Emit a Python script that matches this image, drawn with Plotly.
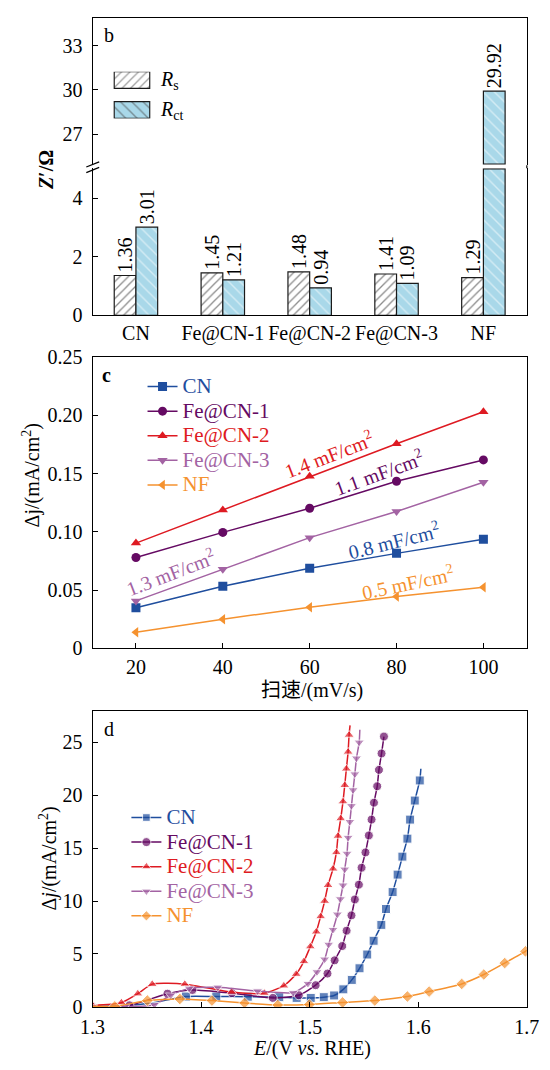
import plotly.graph_objects as go

W, H = 550, 1070
FONT = "Liberation Serif, Noto Sans CJK SC, serif"
SERIF = "Liberation Serif"

# ---------------- panel b: equivalent-circuit resistances ----------------
samples = ["CN", "Fe@CN-1", "Fe@CN-2", "Fe@CN-3", "NF"]
r_s = [1.36, 1.45, 1.48, 1.41, 1.29]
r_ct = [3.01, 1.21, 0.94, 1.09, 29.92]
low_ticks = [0, 2, 4]
high_ticks = [27, 30, 33]

# ---------------- panel c: double-layer current vs scan rate ----------------
scan_rate = [20, 40, 60, 80, 100]
dj_cn = [0.0348, 0.0533, 0.0687, 0.0815, 0.0936]
dj_fe1 = [0.0779, 0.0995, 0.1202, 0.1434, 0.1617]
dj_fe2 = [0.0903, 0.1188, 0.1476, 0.1756, 0.2031]
dj_fe3 = [0.0407, 0.0678, 0.0950, 0.1174, 0.1426]
dj_nf = [0.0138, 0.0250, 0.0353, 0.0445, 0.0524]
c_ticks = [0, 0.05, 0.10, 0.15, 0.20, 0.25]
c_ticktext = ["0", "0.05", "0.10", "0.15", "0.20", "0.25"]
cdl_text = ["0.8 mF/cm<sup>2</sup>", "1.1 mF/cm<sup>2</sup>", "1.4 mF/cm<sup>2</sup>",
            "1.3 mF/cm<sup>2</sup>", "0.5 mF/cm<sup>2</sup>"]

# ---------------- panel d: LSV polarisation curves ----------------
e_cn = [1.300, 1.330, 1.356, 1.386, 1.414, 1.443, 1.472, 1.488, 1.501, 1.513, 1.5225,
        1.531, 1.5388, 1.5459, 1.553, 1.5589, 1.566, 1.5703, 1.5764, 1.581, 1.5854,
        1.590, 1.5925, 1.5968, 1.6014, 1.6024]
j_cn = [0.05, 0.12, 0.40, 0.98, 0.98, 0.96, 0.92, 0.85, 0.85, 0.92, 1.08,
        1.66, 2.55, 3.65, 4.95, 6.25, 7.75, 9.25, 10.85, 12.5, 14.2,
        15.9, 17.7, 19.5, 21.4, 22.5]
e_fe1 = [1.300, 1.334, 1.369, 1.392, 1.4284, 1.466, 1.490, 1.5055, 1.5164, 1.523, 1.530,
         1.534, 1.5385, 1.5416, 1.5453, 1.5478, 1.5514, 1.5545, 1.557, 1.5592, 1.5622,
         1.5638, 1.5662, 1.5684]
j_fe1 = [0.0, 0.15, 1.25, 1.6, 1.3, 0.85, 1.1, 2.05, 3.15, 4.4, 5.75,
         7.2, 8.65, 10.15, 11.55, 13.15, 14.6, 16.2, 17.7, 19.3, 20.85,
         22.4, 23.95, 25.55]
e_fe2 = [1.300, 1.3266, 1.3417, 1.355, 1.385, 1.4281, 1.4583, 1.4762, 1.4876, 1.4947,
         1.5006, 1.5061, 1.5101, 1.5138, 1.5169, 1.5215, 1.5246, 1.5261, 1.5286, 1.5307,
         1.5323, 1.5338, 1.5354, 1.5363, 1.5372]
j_fe2 = [0.15, 0.40, 1.25, 2.15, 2.15, 1.40, 1.30, 2.0, 3.1, 4.3,
         5.7, 7.1, 8.55, 10.0, 11.5, 13.05, 14.6, 16.15, 17.8, 19.4,
         20.95, 22.5, 24.1, 25.7, 26.6]
e_fe3 = [1.300, 1.3296, 1.357, 1.372, 1.389, 1.4154, 1.452, 1.4848, 1.4984, 1.5067,
         1.5138, 1.5175, 1.5215, 1.5255, 1.5283, 1.5307, 1.5323, 1.5344, 1.5354, 1.537,
         1.5385, 1.540, 1.5416, 1.5431, 1.5456, 1.5462]
j_fe3 = [0.0, 0.0, 0.2, 1.1, 1.75, 1.85, 1.5, 1.35, 2.2, 3.3,
         4.5, 5.9, 7.3, 8.75, 10.2, 11.5, 13.0, 14.5, 16.0, 17.5,
         19.0, 20.5, 22.0, 23.5, 25.0, 26.2]
e_nf = [1.300, 1.3205, 1.3505, 1.3804, 1.410, 1.440, 1.4706, 1.4997, 1.5303, 1.560,
        1.590, 1.610, 1.640, 1.6604, 1.6796, 1.6987, 1.700]
j_nf = [0.05, 0.05, 0.6, 0.75, 0.6, 0.37, 0.18, 0.22, 0.42, 0.6,
        0.98, 1.45, 2.17, 3.06, 4.14, 5.25, 5.35]
d_xticks = [1.3, 1.4, 1.5, 1.6, 1.7]
d_yticks = [0, 5, 10, 15, 20, 25]

BLUE, PURPLE, RED, PINK, ORANGE = "#1F4E9E", "#650A63", "#DE1A22", "#A363A3", "#F5922F"
BLACK = "#1a1a1a"
RCT_BLUE = "#A9D8E9"

# plot-area geometry (pixels)
PX0, PX1 = 83.3, 538.3


def xp(px):
    return px / W


def yp(py):
    return 1 - py / H


def ydom(top, bottom):
    return [yp(bottom), yp(top)]


def legend_name(name, col):
    # legend entries carry the series colour; the text size is set on the span so
    # the row pitch (driven by the legend font) can stay compact
    return (f'<span style="color:{col};font-size:21px;font-family:{SERIF}">'
            f'{name}</span>')


fig = go.Figure()

# ---- panel b bars, drawn on a broken y axis (lower 0-5, upper 25-35) ----
LOW_CUT, HIGH_CUT = 5.0, 25.0
BAR_W = 0.25  # each bar takes a quarter of the category slot (group = half)
rs_marker = dict(color="white", line=dict(color=BLACK, width=1.2),
                 pattern=dict(shape="/", fgcolor=BLACK, bgcolor="white", size=6, solidity=0.22))
rct_marker = dict(color=RCT_BLUE, line=dict(color=BLACK, width=1.2),
                  pattern=dict(shape="\\", fgcolor="white", bgcolor=RCT_BLUE, size=8, solidity=0.18))
bar_font = dict(family=SERIF, size=20, color="black")
for vals, mk, offset in [(r_s, rs_marker, -BAR_W), (r_ct, rct_marker, 0.0)]:
    # lower segment: every bar, cut at the top of the lower axis
    fig.add_bar(x=samples, y=[min(v, LOW_CUT) for v in vals],
                width=BAR_W, offset=offset,
                text=[f"{v:.2f}" if v <= LOW_CUT else None for v in vals],
                textposition="outside", textangle=-90, constraintext="none",
                textfont=bar_font, cliponaxis=False, marker=mk,
                xaxis="x", yaxis="y", showlegend=False, hoverinfo="skip")
    # upper segment: only the bars that reach above the break
    tall = [(s, v) for s, v in zip(samples, vals) if v > HIGH_CUT]
    if tall:
        fig.add_bar(x=[s for s, _ in tall], y=[v - HIGH_CUT for _, v in tall],
                    base=HIGH_CUT, width=BAR_W, offset=offset,
                    text=[f"{v:.2f}" for _, v in tall],
                    textposition="outside", textangle=-90, constraintext="none",
                    textfont=bar_font, cliponaxis=False, marker=mk,
                    xaxis="x2", yaxis="y2", showlegend=False, hoverinfo="skip")

# legend keys for panel b (hatched swatches)
key_names = ["R_s", "R_ct"]
fig.add_bar(y=key_names, x=[1] * len(key_names), orientation="h", width=0.56,
            marker=dict(color=["white", RCT_BLUE], line=dict(color=BLACK, width=1.2),
                        pattern=dict(shape=["/", "\\"], fgcolor=[BLACK, "white"],
                                     bgcolor=["white", RCT_BLUE], size=[6, 8],
                                     solidity=[0.22, 0.18])),
            xaxis="x3", yaxis="y3", showlegend=False, hoverinfo="skip")

# ---- panel c ----
series_c = [("CN", dj_cn, BLUE, "square"), ("Fe@CN-1", dj_fe1, PURPLE, "circle"),
            ("Fe@CN-2", dj_fe2, RED, "triangle-up"), ("Fe@CN-3", dj_fe3, PINK, "triangle-down"),
            ("NF", dj_nf, ORANGE, "triangle-left")]
for name, vals, col, sym in series_c:
    fig.add_scatter(x=scan_rate, y=vals, mode="lines+markers",
                    line=dict(color=col, width=1.5),
                    marker=dict(symbol=sym, size=9, color=col),
                    name=legend_name(name, col),
                    legend="legend2", xaxis="x4", yaxis="y4")

# ---- panel d ----
# (name, E, j, colour, symbol, unmarked leading points, unmarked trailing points)
series_d = [("CN", e_cn, j_cn, BLUE, "square", 3, 1),
            ("Fe@CN-1", e_fe1, j_fe1, PURPLE, "circle", 0, 0),
            ("Fe@CN-2", e_fe2, j_fe2, RED, "triangle-up", 0, 1),
            ("Fe@CN-3", e_fe3, j_fe3, PINK, "triangle-down", 0, 1),
            ("NF", e_nf, j_nf, ORANGE, "diamond", 1, 1)]
for name, ex, jy, col, sym, lead, tail in series_d:
    n = len(ex)
    sizes = [0 if (i < lead or i >= n - tail) else 9 for i in range(n)]
    fig.add_scatter(x=ex, y=jy, mode="lines+markers",
                    line=dict(color=col, width=1.5, shape="spline", smoothing=0.6),
                    marker=dict(symbol=sym, size=sizes, color=col),
                    name=legend_name(name, col),
                    legend="legend3", xaxis="x5", yaxis="y5", cliponaxis=True)

tickfont = dict(family=SERIF, size=20, color="black")
base_axis = dict(showline=True, linecolor="black", linewidth=1.2, ticks="inside",
                 ticklen=5, tickwidth=1.2, tickcolor="black", tickfont=tickfont,
                 showgrid=False, zeroline=False, ticklabeloverflow="allow",
                 ticklabelstandoff=5)

# panel b geometry
B_TOP, B_UP_BOT, B_LOW_TOP, B_BOT = 7.3, 157.5, 160.5, 310.7
up_lo = HIGH_CUT - (B_UP_BOT - 156.2) / 15.12
up_hi = HIGH_CUT + (156.2 - B_TOP) / 15.12
low_hi = LOW_CUT + (161.2 - B_LOW_TOP) / 29.9

C_TOP, C_BOT = 353.3, 650.7
D_TOP, D_BOT = 714.3, 1016.8

legend_common = dict(xanchor="left", yanchor="top", bgcolor="rgba(0,0,0,0)",
                     font=dict(family=SERIF, size=16.6), tracegroupgap=0)

layout = dict(
    width=W, height=H, margin=dict(l=0, r=0, t=0, b=0),
    paper_bgcolor="white", plot_bgcolor="white",
    font=dict(family=FONT, size=20, color="black"),
    barmode="overlay",
    xaxis=dict(base_axis, domain=[xp(PX0), xp(PX1)], anchor="y", type="category",
               categoryorder="array", categoryarray=samples, range=[-0.5, 4.5],
               ticks="", mirror=False, ticklabelstandoff=0),
    yaxis=dict(base_axis, domain=ydom(B_LOW_TOP, B_BOT), anchor="x", range=[0, low_hi],
               tickvals=low_ticks, mirror=True),
    xaxis2=dict(base_axis, domain=[xp(PX0), xp(PX1)], anchor="y2", type="category",
                categoryorder="array", categoryarray=samples, range=[-0.5, 4.5],
                ticks="", side="top", showticklabels=False),
    yaxis2=dict(base_axis, domain=ydom(B_TOP, B_UP_BOT), anchor="x2", range=[up_lo, up_hi],
                tickvals=high_ticks, mirror=True),
    xaxis3=dict(domain=[xp(104.9), xp(144.4)], anchor="y3", range=[-0.03, 1.03],
                visible=False, fixedrange=True),
    yaxis3=dict(domain=ydom(62.0, 109.8), anchor="x3", type="category",
                categoryorder="array", categoryarray=key_names, range=[1.29, -0.28],
                visible=False, fixedrange=True),
    xaxis4=dict(base_axis, domain=[xp(PX0), xp(PX1)], anchor="y4", range=[10, 110],
                tickvals=scan_rate, mirror=True, ticklabelstandoff=1),
    yaxis4=dict(base_axis, domain=ydom(C_TOP, C_BOT), anchor="x4", range=[0, 0.25],
                tickvals=c_ticks, ticktext=c_ticktext, mirror=True),
    xaxis5=dict(base_axis, domain=[xp(PX0), xp(PX1)], anchor="y5", range=[1.3, 1.7],
                tickvals=d_xticks, mirror=True, ticklabelstandoff=2),
    yaxis5=dict(base_axis, domain=ydom(D_TOP, D_BOT), anchor="x5", range=[0, 28],
                tickvals=d_yticks, mirror=True),
    legend2=dict(legend_common, x=xp(135.7), y=yp(365.8)),
    legend3=dict(legend_common, x=xp(118.8), y=yp(805.8)),
)
fig.update_layout(layout)

shapes = [
    # right border bridging the axis break
    dict(type="line", xref="paper", yref="paper", x0=xp(PX1), x1=xp(PX1),
         y0=yp(B_LOW_TOP), y1=yp(B_UP_BOT), line=dict(color="black", width=1.2)),
    # break marks on the left axis
    dict(type="line", xref="paper", yref="paper", x0=xp(PX0 - 6.5), x1=xp(PX0 + 7),
         y0=yp(159.3), y1=yp(154.0), line=dict(color="black", width=1.2)),
    dict(type="line", xref="paper", yref="paper", x0=xp(PX0 - 6.5), x1=xp(PX0 + 7),
         y0=yp(165.0), y1=yp(159.7), line=dict(color="black", width=1.2)),
]
fig.update_layout(shapes=shapes)


def label(text, px, py, size=20, angle=0, color="black", xanchor="center", family=SERIF):
    return dict(text=text, x=xp(px), y=yp(py), xref="paper", yref="paper",
                showarrow=False, textangle=angle, xanchor=xanchor, yanchor="middle",
                font=dict(family=family, size=size, color=color))


annotations = [
    label("b", 101, 24),
    label("<b>c</b>", 98, 372),
    label("d", 101, 733),
    label("<i>R</i><sub>s</sub>", 151.5, 70.8, xanchor="left"),
    label("<i>R</i><sub>ct</sub>", 151.5, 101.2, xanchor="left"),
    label("<b><i>Z</i>′/Ω</b>", 34, 162, angle=-90),
    label("Δj/(mA/cm<sup>2</sup>)", 19, 474, angle=-90),
    label("扫速/(mV/s)", 313, 694, family=FONT),
    label("Δ<i>j</i>/(mA/cm<sup>2</sup>)", 37, 865, angle=-90),
    label("<i>E</i>/(V <i>vs</i>. RHE)", 313, 1059),
]

# specific-capacitance labels along the panel c lines: (x, y, angle, colour)
cdl_pos = [(79.5, 0.0931, -14, BLUE), (76.0, 0.1513, -20, PURPLE), (64.5, 0.1668, -21, RED),
           (28.0, 0.0651, -21, PINK), (82.6, 0.0567, -12, ORANGE)]
for txt, (cx, cy, ang, col) in zip(cdl_text, cdl_pos):
    annotations.append(dict(text=txt, x=cx, y=cy, xref="x4", yref="y4", showarrow=False,
                            textangle=ang, font=dict(family=SERIF, size=20, color=col)))

fig.update_layout(annotations=annotations)
fig.write_html("out.html")
